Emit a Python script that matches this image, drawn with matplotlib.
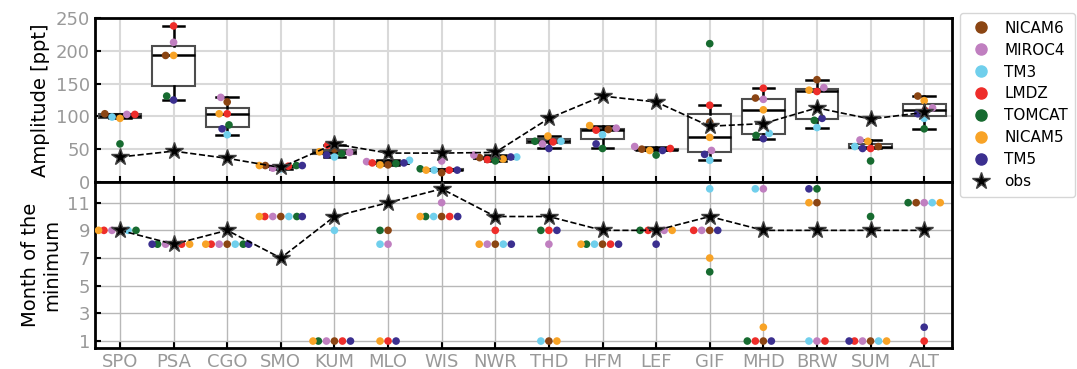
import numpy as np
import pandas as pd
import seaborn as sns
import matplotlib
matplotlib.use('Agg')
from matplotlib import pyplot as plt
from matplotlib.lines import Line2D

nan = np.nan

stations = ['SPO', 'PSA', 'CGO', 'SMO', 'KUM', 'MLO', 'WIS', 'NWR',
            'THD', 'HFM', 'LEF', 'GIF', 'MHD', 'BRW', 'SUM', 'ALT']
models = ['NICAM6', 'MIROC4', 'TM3', 'LMDZ', 'TOMCAT', 'NICAM5', 'TM5']
colors = ['#8B4513', '#C07FC0', '#70CFEC', '#EE2D2A', '#176B30', '#F8A326', '#3B2F8F']

# amplitude [ppt]
amp_nicam6 = [104, 193, 122, 25, 50, 26, 14, 37, 97, 80, 50, 91, 128, 156, 54, 131]
amp_miroc4 = [103, 213, 129, 21, 45, 31, 32, 41, 58, 82, 54, 48, 126, 144, 64, 113]
amp_tm3 = [99, nan, 72, 20, 38, 33, 18, 38, 62, 72, nan, 33, 74, 83, 54, 97]
amp_lmdz = [103, 238, 104, 24, 56, 29, 18, 34, 61, 79, 51, 117, 143, 138, 51, 109]
amp_tomcat = [58, 131, 87, 25, 43, 28, 20, 32, 62, 51, 41, 211, 71, 94, 32, 81]
amp_nicam5 = [97, 193, 104, 25, 46, 26, 18, 35, 70, 86, 48, 68, 110, 140, 62, 124]
amp_tm5 = [nan, 125, 81, 25, 41, 29, 18, 38, 51, 58, 48, 42, 66, 97, 51, 104]
amp_obs = [38, 47, 36, 22, 58, 44, 44, 45, 97, 131, 122, 85, 89, 113, 96, 106]

# month of the minimum
mon_nicam6 = [9, 8, 8, 10, 1, 9, 10, 8, 1, 8, 9, 9, 1, 11, 1, 11]
mon_miroc4 = [9, 8, 8, 10, 1, 8, 11, 8, 8, 9, 9, 9, 12, 1, 1, 11]
mon_tm3 = [9, nan, 8, 10, 9, 8, 10, 8, 1, 8, nan, 12, 12, 1, 1, 11]
mon_lmdz = [9, 8, 8, 10, 1, 1, 10, 9, 9, 8, 9, 9, 1, 1, 1, 1]
mon_tomcat = [9, 8, 8, 10, 1, 9, 10, 10, 9, 8, 9, 6, 1, 12, 10, 11]
mon_nicam5 = [9, 8, 8, 10, 1, 1, 10, 8, 1, 8, 9, 7, 2, 11, 1, 11]
mon_tm5 = [nan, 8, 8, 10, 1, 1, 10, 8, 9, 8, 8, 9, 1, 12, 1, 2]
mon_obs = [9, 8, 9, 7, 10, 11, 12, 10, 10, 9, 9, 10, 9, 9, 9, 9]

amp_all = [amp_nicam6, amp_miroc4, amp_tm3, amp_lmdz, amp_tomcat, amp_nicam5, amp_tm5]
mon_all = [mon_nicam6, mon_miroc4, mon_tm3, mon_lmdz, mon_tomcat, mon_nicam5, mon_tm5]

rows = []
for m, a, mo in zip(models, amp_all, mon_all):
    for s, va, vm in zip(stations, a, mo):
        rows.append({'station': s, 'model': m, 'amp': va, 'mon': vm})
df = pd.DataFrame(rows)

fig = plt.figure(figsize=(10.77, 3.69), dpi=100)
ax1 = fig.add_axes([0.088, 0.507, 0.796, 0.444])
ax2 = fig.add_axes([0.088, 0.057, 0.796, 0.45], sharex=ax1)

grey = '#999999'
x = np.arange(len(stations))

# boxes of the model spread
box_data = [df[df.station == s]['amp'].dropna().values for s in stations]
ax1.boxplot(box_data, positions=x, widths=0.8, showfliers=False, patch_artist=True,
            boxprops=dict(facecolor='white', edgecolor='0.3', linewidth=1.5),
            medianprops=dict(color='k', linewidth=1.8),
            whiskerprops=dict(color='k', linewidth=1.8),
            capprops=dict(color='k', linewidth=1.8), zorder=2)

sns.swarmplot(data=df, x='station', y='amp', hue='model', hue_order=models,
              palette=colors, order=stations, size=5.5, legend=False, ax=ax1, zorder=3)
ax1.plot(x, amp_obs, 'k--', lw=1.2, marker='*', ms=13, mfc='k', mec='0.25', zorder=5)

sns.swarmplot(data=df, x='station', y='mon', hue='model', hue_order=models,
              palette=colors, order=stations, size=5.5, legend=False, ax=ax2, zorder=3)
ax2.plot(x, mon_obs, 'k--', lw=1.2, marker='*', ms=13, mfc='k', mec='0.25', zorder=5)

ax1.set_ylim(0, 250)
ax1.set_yticks([0, 50, 100, 150, 200, 250])
ax1.grid(True, color='#d9d9d9', lw=1.5, zorder=0)
ax1.set_ylabel('Amplitude [ppt]', fontsize=14)

ax2.set_ylim(0.5, 12.5)
ax2.set_yticks([1, 3, 5, 7, 9, 11])
ax2.grid(True, color='#b8b8b8', lw=1.0, zorder=0)
ax2.set_ylabel('Month of the\nminimum', fontsize=14)

ax2.set_xlim(-0.47, 15.52)
ax2.set_xticks(x)
ax2.set_xticklabels(stations)
ax1.tick_params(axis='x', labelbottom=False)
ax1.set_xlabel('')
ax2.set_xlabel('')

for ax in (ax1, ax2):
    ax.set_axisbelow(True)
    ax.tick_params(direction='in', length=4, width=1.5, labelsize=13, labelcolor=grey)
    for sp in ax.spines.values():
        sp.set_linewidth(2)
fig.align_ylabels([ax1, ax2])

handles = [Line2D([], [], ls='', marker='o', ms=8, color=c) for c in colors]
handles.append(Line2D([], [], ls='', marker='*', ms=13, mfc='k', mec='0.25'))
fig.legend(handles, models + ['obs'], loc='upper left', bbox_to_anchor=(0.884, 0.985),
           fontsize=11, frameon=True, edgecolor='#cccccc', handletextpad=0.6,
           handlelength=1.8, labelspacing=0.45, borderpad=0.5)

fig.savefig('out.png', dpi=100)
